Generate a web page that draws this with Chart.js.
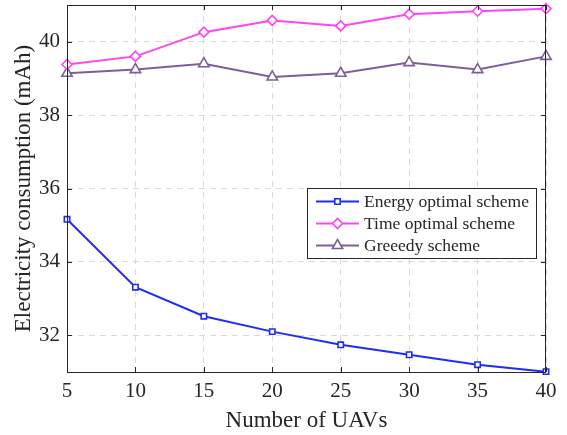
<!DOCTYPE html>
<html>
<head>
<meta charset="utf-8">
<script src="https://cdn.jsdelivr.net/npm/chart.js@4.4.0/dist/chart.umd.min.js"></script>
<style>
  html, body { margin: 0; padding: 0; background: #fff; }
  #wrap { width: 567px; height: 435px; }
</style>
</head>
<body>
<div id="wrap"><canvas id="chart"></canvas></div>
<script>
// data
const uavCounts = [5, 10, 15, 20, 25, 30, 35, 40];
const energyOptimal = [35.16, 33.31, 32.52, 32.10, 31.74, 31.47, 31.20, 31.01];
const timeOptimal = [39.38, 39.60, 40.26, 40.58, 40.43, 40.75, 40.83, 40.90];
const greedy = [39.14, 39.24, 39.40, 39.04, 39.14, 39.43, 39.24, 39.60];
const xTicks = [5, 10, 15, 20, 25, 30, 35, 40];
const yTicks = [32, 34, 36, 38, 40];

const serif = "'Liberation Serif', 'DejaVu Serif', serif";
const textColor = '#262626';
const axisColor = '#262626';

function toPoints(vals) {
    return uavCounts.map((x, i) => ({ x: x, y: vals[i] }));
}

function makeSet(label, vals, color, style, radius) {
    return {
        label: label,
        data: toPoints(vals),
        borderColor: color,
        backgroundColor: color,
        borderWidth: 2,
        pointStyle: style,
        pointRadius: radius,
        pointHoverRadius: radius,
        pointBorderWidth: 1.6,
        pointBackgroundColor: '#ffffff',
        pointBorderColor: color,
        tension: 0,
        clip: 8
    };
}

// box + inward ticks like matlab
const boxPlugin = {
    id: 'boxPlugin',
    afterDraw(chart) {
        const { ctx, chartArea: a, scales } = chart;
        ctx.save();
        ctx.strokeStyle = axisColor;
        ctx.lineWidth = 1;
        ctx.strokeRect(a.left + 0.5, a.top + 0.5, a.right - a.left - 1, a.bottom - a.top);
        ctx.beginPath();
        xTicks.forEach(t => {
            const px = Math.round(scales.x.getPixelForValue(t)) + 0.5;
            ctx.moveTo(px, a.bottom); ctx.lineTo(px, a.bottom - 5);
            ctx.moveTo(px, a.top); ctx.lineTo(px, a.top + 5);
        });
        yTicks.forEach(t => {
            const py = Math.round(scales.y.getPixelForValue(t)) + 0.5;
            ctx.moveTo(a.left, py); ctx.lineTo(a.left + 5, py);
            ctx.moveTo(a.right, py); ctx.lineTo(a.right - 5, py);
        });
        ctx.stroke();
        ctx.restore();
    }
};

// legend inside the plot area
const innerLegend = {
    id: 'innerLegend',
    afterDraw(chart) {
        const { ctx } = chart;
        const x0 = 307, y0 = 188, w = 229, h = 70;
        ctx.save();
        ctx.fillStyle = '#ffffff';
        ctx.fillRect(x0, y0, w, h);
        ctx.strokeStyle = axisColor;
        ctx.lineWidth = 1;
        ctx.strokeRect(x0 + 0.5, y0 + 0.5, w, h);
        ctx.font = '17.5px ' + serif;
        ctx.textBaseline = 'middle';
        chart.data.datasets.forEach((ds, i) => {
            const cy = y0 + 13.5 + i * 22;
            ctx.strokeStyle = ds.borderColor;
            ctx.lineWidth = 2;
            ctx.beginPath();
            ctx.moveTo(x0 + 9, cy); ctx.lineTo(x0 + 52, cy);
            ctx.stroke();
            ctx.fillStyle = '#ffffff';
            ctx.lineWidth = ds.pointBorderWidth;
            Chart.helpers.drawPoint(ctx, {
                pointStyle: ds.pointStyle,
                radius: ds.pointRadius,
                borderWidth: ds.pointBorderWidth
            }, x0 + 30.5, cy);
            ctx.fillStyle = textColor;
            ctx.fillText(ds.label, x0 + 57, cy + 1);
        });
        ctx.restore();
    }
};

const ctx = document.getElementById('chart').getContext('2d');
const chart = new Chart(ctx, {
    type: 'line',
    data: {
        datasets: [
            makeSet('Energy optimal scheme', energyOptimal, '#1f2cf6', 'rect', 3.8),
            makeSet('Time optimal scheme', timeOptimal, '#ff44f2', 'rectRot', 5),
            makeSet('Greeedy scheme', greedy, '#7d5e9b', 'triangle', 6)
        ]
    },
    options: {
        responsive: true,
        maintainAspectRatio: false,
        animation: false,
        layout: { autoPadding: false, padding: { top: 5, right: 21, left: 0, bottom: 0 } },
        plugins: {
            legend: { display: false },
            tooltip: { enabled: false }
        },
        scales: {
            x: {
                type: 'linear',
                min: 5,
                max: 40,
                afterBuildTicks: s => { s.ticks = xTicks.map(v => ({ value: v })); },
                afterFit: s => { s.height = 63; s.paddingLeft = 0; s.paddingRight = 0; },
                grid: {
                    color: '#d9d9d9',
                    lineWidth: 1,
                    drawTicks: false
                },
                border: { display: false, dash: [6, 5] },
                ticks: {
                    color: textColor,
                    padding: 7,
                    font: { family: serif, size: 21 }
                },
                title: {
                    display: true,
                    text: 'Number of UAVs',
                    color: textColor,
                    padding: { top: 0, bottom: 0 },
                    font: { family: serif, size: 23 }
                }
            },
            y: {
                type: 'linear',
                min: 31,
                max: 41,
                afterBuildTicks: s => { s.ticks = yTicks.map(v => ({ value: v })); },
                afterFit: s => { s.width = 67; s.paddingTop = 0; s.paddingBottom = 0; },
                grid: {
                    color: '#d9d9d9',
                    lineWidth: 1,
                    drawTicks: false
                },
                border: { display: false, dash: [6, 5] },
                ticks: {
                    color: textColor,
                    padding: 7,
                    font: { family: serif, size: 21 }
                },
                title: {
                    display: true,
                    text: 'Electricity consumption (mAh)',
                    color: textColor,
                    padding: { top: 10, bottom: 0 },
                    font: { family: serif, size: 23 }
                }
            }
        }
    },
    plugins: [boxPlugin, innerLegend]
});
</script>
</body>
</html>
